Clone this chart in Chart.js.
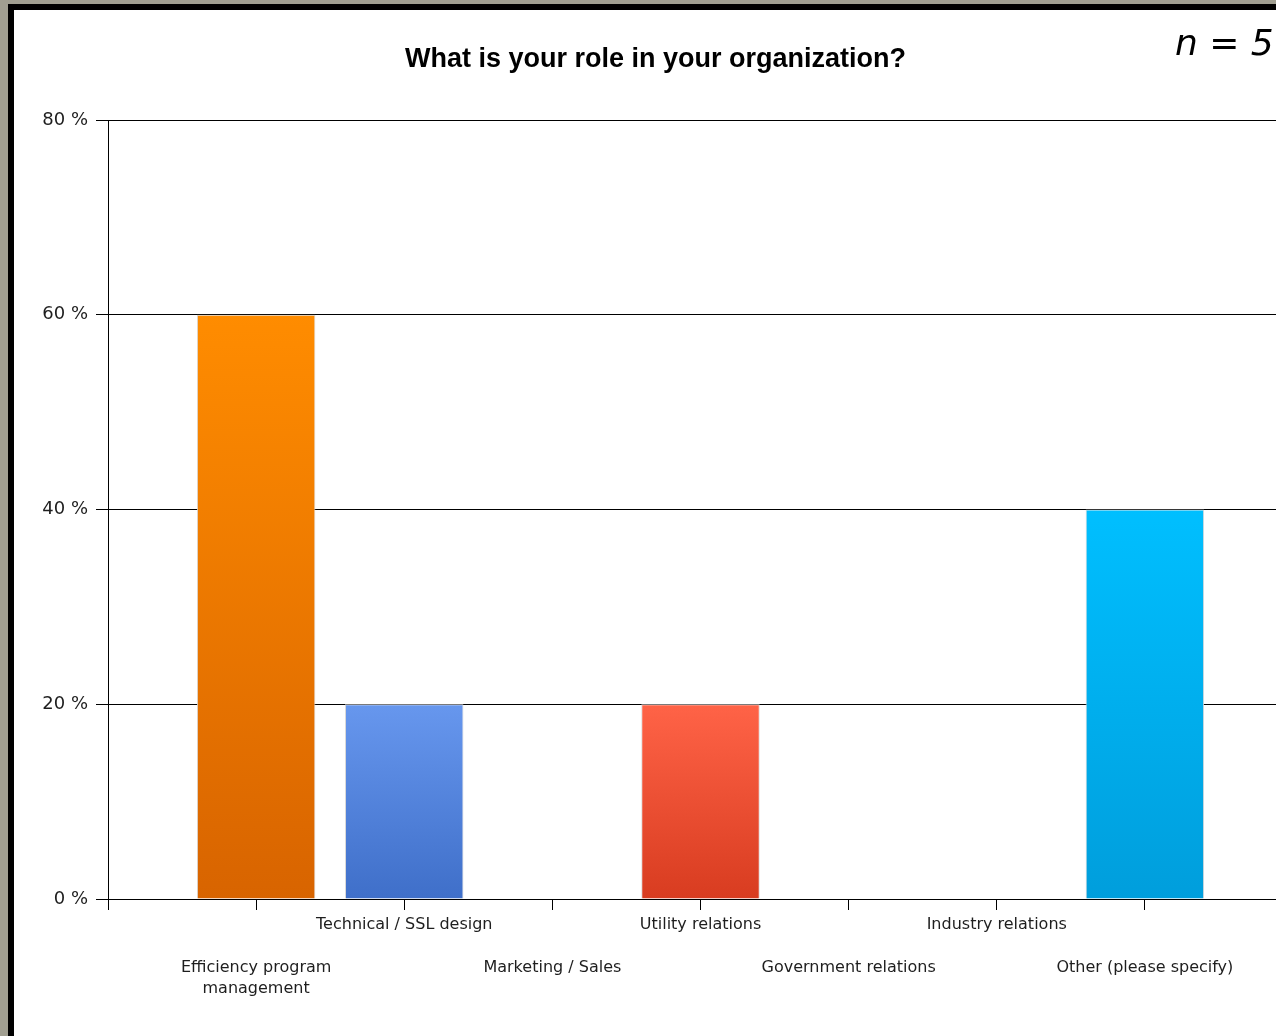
<!DOCTYPE html>
<html>
<head>
<meta charset="utf-8">
<title>What is your role in your organization?</title>
<script src="https://cdn.jsdelivr.net/npm/chart.js@4.4.1/dist/chart.umd.min.js"></script>
<style>
    html, body { margin: 0; padding: 0; width: 1276px; height: 1036px; overflow: hidden; background: #a19f91; }
    #frame { position: absolute; left: 8px; top: 4px; width: 1400px; height: 1100px; background: #000; }
    #panel { position: absolute; left: 14px; top: 10px; width: 1400px; height: 1100px; background: #fff; }
    #wrap { position: absolute; left: 14px; top: 10px; width: 1283px; height: 1026px; }
    #sample { position: absolute; left: 1175px; top: 25px; font: oblique 36px "DejaVu Sans"; line-height: 1; color: #000; white-space: pre; }
</style>
</head>
<body>
<div id="frame"></div>
<div id="panel"></div>
<div id="wrap"><canvas id="roleChart"></canvas></div>
<div id="sample">n = 5</div>
<script>
// Survey answers, share of respondents in percent
const categories = [
    ['Efficiency program', 'management'],
    'Technical / SSL design',
    'Marketing / Sales',
    'Utility relations',
    'Government relations',
    'Industry relations',
    'Other (please specify)'
];
const shares = [60, 20, 0, 20, 0, 0, 40];
const yTicks = [0, 20, 40, 60, 80];

// Bar gradient colours, light at the top, dark at the base
const barTop = ['#ff8c00', '#6797ee', '#9acd32', '#ff6347', '#ba55d3', '#ffd700', '#00bfff'];
const barBottom = ['#d86400', '#3f6fc9', '#6b9a18', '#d83c20', '#8a2ba8', '#d0a800', '#009edc'];

// Empty slot on each side so bars sit on whole-number ticks
const axisLabels = ['', ...categories, ''];
const axisValues = [null, ...shares, null];

function barGradient(context) {
    const chart = context.chart;
    const i = context.dataIndex - 1;
    if (!chart.chartArea || i < 0 || i >= shares.length) return 'transparent';
    const yScale = chart.scales.y;
    const top = yScale.getPixelForValue(shares[i]);
    const base = yScale.getPixelForValue(0);
    if (base - top < 1) return barTop[i];
    const g = chart.ctx.createLinearGradient(0, top, 0, base);
    g.addColorStop(0, barTop[i]);
    g.addColorStop(1, barBottom[i]);
    return g;
}

const tickFont = { family: 'DejaVu Sans', size: 16, lineHeight: 1.34375 };

new Chart(document.getElementById('roleChart'), {
    type: 'bar',
    data: {
        labels: axisLabels,
        datasets: [{
            data: axisValues,
            backgroundColor: barGradient,
            borderColor: '#d9d9d9',
            borderWidth: 1,
            borderSkipped: 'bottom',
            barPercentage: 0.8,
            categoryPercentage: 1
        }]
    },
    options: {
        responsive: true,
        maintainAspectRatio: false,
        animation: false,
        layout: { padding: 0 },
        plugins: {
            legend: { display: false },
            tooltip: { enabled: false },
            title: {
                display: true,
                text: 'What is your role in your organization?',
                color: '#000',
                font: { family: 'Liberation Sans', size: 27, weight: 'bold' },
                padding: { top: 33, bottom: 44.6 }
            }
        },
        scales: {
            x: {
                offset: false,
                grid: { offset: false, drawOnChartArea: false, drawTicks: true, tickLength: 11, color: '#000' },
                border: { display: true, color: '#000', width: 1 },
                ticks: {
                    autoSkip: false,
                    maxRotation: 0,
                    minRotation: 0,
                    padding: 4,
                    color: '#1e1e1e',
                    font: tickFont,
                    callback: (value, index) => {
                        const label = axisLabels[index];
                        const lines = Array.isArray(label) ? label : [label];
                        // Alternate rows so the long labels do not collide
                        return index % 2 === 1 ? ['', '', ...lines] : lines;
                    }
                },
                afterFit: scale => { scale.height = 137; }
            },
            y: {
                min: 0,
                max: 80,
                grid: { color: '#000', lineWidth: 1, tickLength: 12 },
                border: { display: true, color: '#000', width: 1 },
                ticks: {
                    padding: 8,
                    color: '#1e1e1e',
                    font: { family: 'DejaVu Sans', size: 18 },
                    callback: v => v + ' %'
                },
                afterBuildTicks: scale => { scale.ticks = yTicks.map(v => ({ value: v })); },
                afterFit: scale => { scale.width = 94; }
            }
        }
    }
});
</script>
</body>
</html>
